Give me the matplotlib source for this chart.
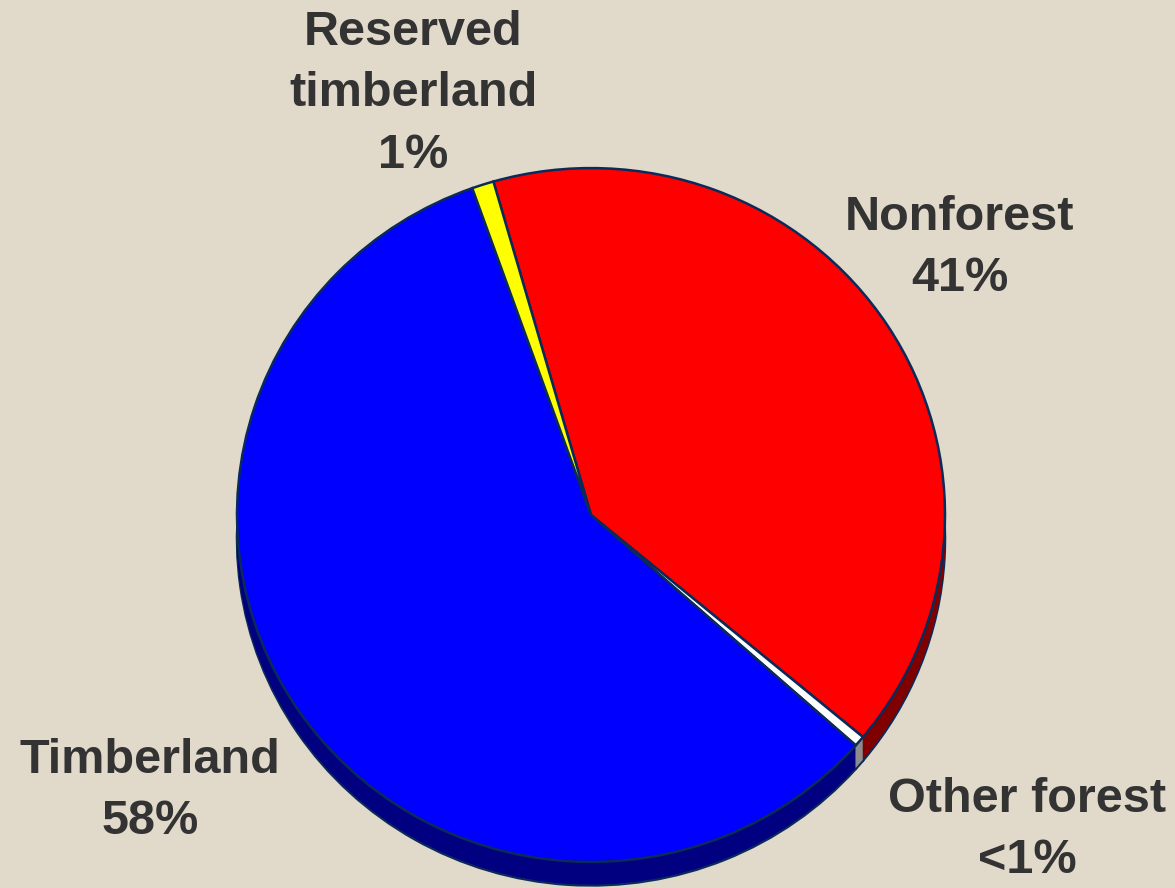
import matplotlib.pyplot as plt
from matplotlib.patches import Wedge

# Land area shares (percent)
labels = ["Nonforest", "Other forest", "Timberland", "Reserved\ntimberland"]
values = [40.5, 0.5, 58.0, 1.0]
pct_text = ["41%", "<1%", "58%", "1%"]
top_colors = ["#FF0000", "#FFFFFF", "#0000FF", "#FFFF00"]
side_colors = ["#800000", "#8C8C8C", "#000080", "#808000"]

W, H = 1175, 888
SQUASH = 0.98          # slight vertical tilt of the pie
cx, cy_pix = 591, 515
radius = 354
depth = 24
start = 106
edge = "#0A2A5A"
bg = "#E1D9CA"
txt = "#333333"

fig = plt.figure(figsize=(W / 100, H / 100), dpi=100, facecolor=bg)
ax = fig.add_axes([0, 0, 1, 1])
ax.set_facecolor(bg)
ax.set_xlim(0, W)
ax.set_ylim(0, H / SQUASH)
ax.axis("off")


def to_data(y_pix):
    return (H - y_pix) / SQUASH


cy = to_data(cy_pix)

# angular spans, clockwise from start
total = sum(values)
spans = []
a = start
for v in values:
    d = 360 * v / total
    spans.append((a - d, a))
    a -= d

# side of the 3D pie: stacked layers
for k in range(depth, 0, -1):
    for (t1, t2), c in zip(spans, side_colors):
        w = Wedge((cx, cy - k), radius, t1, t2, facecolor=c,
                  edgecolor=edge if k == depth else "none",
                  linewidth=1.8 if k == depth else 0)
        ax.add_patch(w)

# top face
for (t1, t2), c in zip(spans, top_colors):
    ax.add_patch(Wedge((cx, cy), radius, t1, t2, facecolor=c,
                       edgecolor=edge, linewidth=1.8))

# labels
font = dict(fontsize=35, fontweight="bold", color=txt, ha="center",
            va="center", family="Liberation Sans", linespacing=1.47)
ax.text(960, to_data(248), f"{labels[0]}\n{pct_text[0]}", **font)
ax.text(1027, to_data(830), f"{labels[1]}\n{pct_text[1]}", **font)
ax.text(150, to_data(791), f"{labels[2]}\n{pct_text[2]}", **font)
ax.text(413, to_data(94), f"{labels[3]}\n{pct_text[3]}", **font)

fig.savefig("out.png", dpi=100, facecolor=bg)
